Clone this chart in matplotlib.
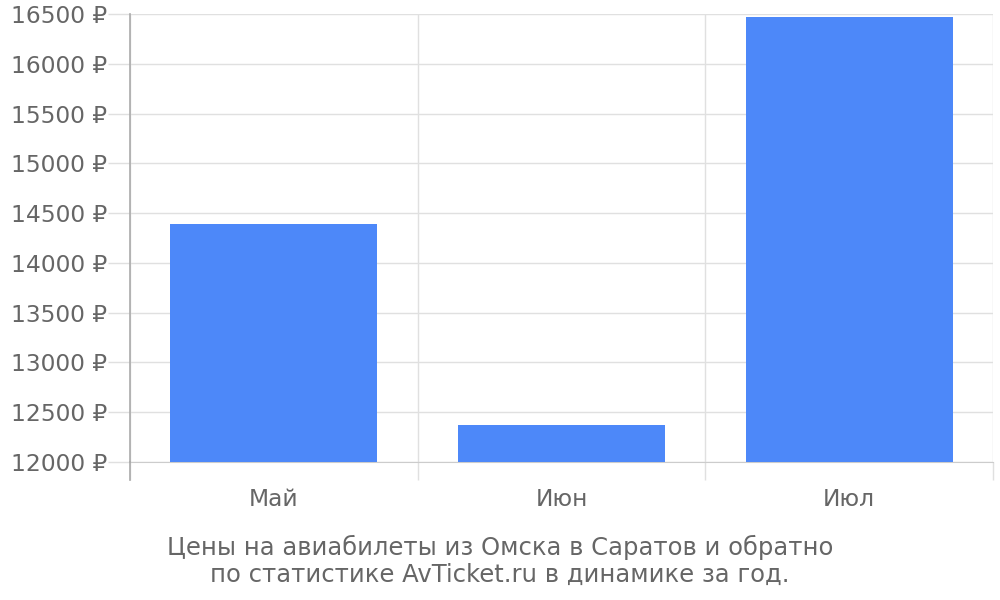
import matplotlib
matplotlib.use('Agg')
import matplotlib.pyplot as plt
from matplotlib.ticker import FixedLocator, FuncFormatter

months = ['Май', 'Июн', 'Июл']
prices = [14390, 12370, 16470]
y_ticks = [12000, 12500, 13000, 13500, 14000, 14500, 15000, 15500, 16000, 16500]
title_lines = ['Цены на авиабилеты из Омска в Саратов и обратно',
               'по статистике AvTicket.ru в динамике за год.']

TEXT = '#666666'
GRID = '#e0e0e0'
BAR = '#4d88f9'

plt.rcParams['font.family'] = ['DejaVu Sans']

fig = plt.figure(figsize=(10, 6), dpi=100)
ax = fig.add_axes([0.13, 0.23, 0.863, 0.7467])

x = list(range(len(months)))
ax.bar(x, prices, width=0.72, color=BAR, zorder=3)

ax.set_xlim(-0.5, len(months) - 0.5)
ax.set_ylim(y_ticks[0], y_ticks[-1])

ax.set_yticks(y_ticks)
ax.yaxis.set_major_formatter(FuncFormatter(lambda v, p: f'{int(v)} ₽'))
ax.tick_params(axis='y', length=16, width=1, color=GRID, labelsize=16.8,
               labelcolor=TEXT, pad=0.5)
ax.grid(axis='y', color=GRID, linewidth=1, zorder=0)

ax.set_xticks(x)
ax.set_xticklabels(months)
ax.tick_params(axis='x', which='major', length=0, labelsize=16.8,
               labelcolor=TEXT, pad=19)
ax.xaxis.set_minor_locator(FixedLocator([i - 0.5 for i in range(len(months) + 1)]))
ax.tick_params(axis='x', which='minor', length=13, width=1, color=GRID)
ax.grid(axis='x', which='minor', color=GRID, linewidth=1, zorder=0)

for side in ['top', 'right']:
    ax.spines[side].set_visible(False)
ax.spines['bottom'].set_color('#cccccc')
ax.spines['left'].set_color('#aaaaaa')
ax.spines['left'].set_linewidth(1.2)
ax.spines['left'].set_zorder(4)
ax.plot([0, 0], [0, -0.04], transform=ax.transAxes, color='#aaaaaa',
        linewidth=1.2, clip_on=False, zorder=4)

fig.text(0.5, 0.065, '\n'.join(title_lines), ha='center', va='center',
         fontsize=17.5, color=TEXT, linespacing=1.15)

fig.savefig('out.png', dpi=100)
